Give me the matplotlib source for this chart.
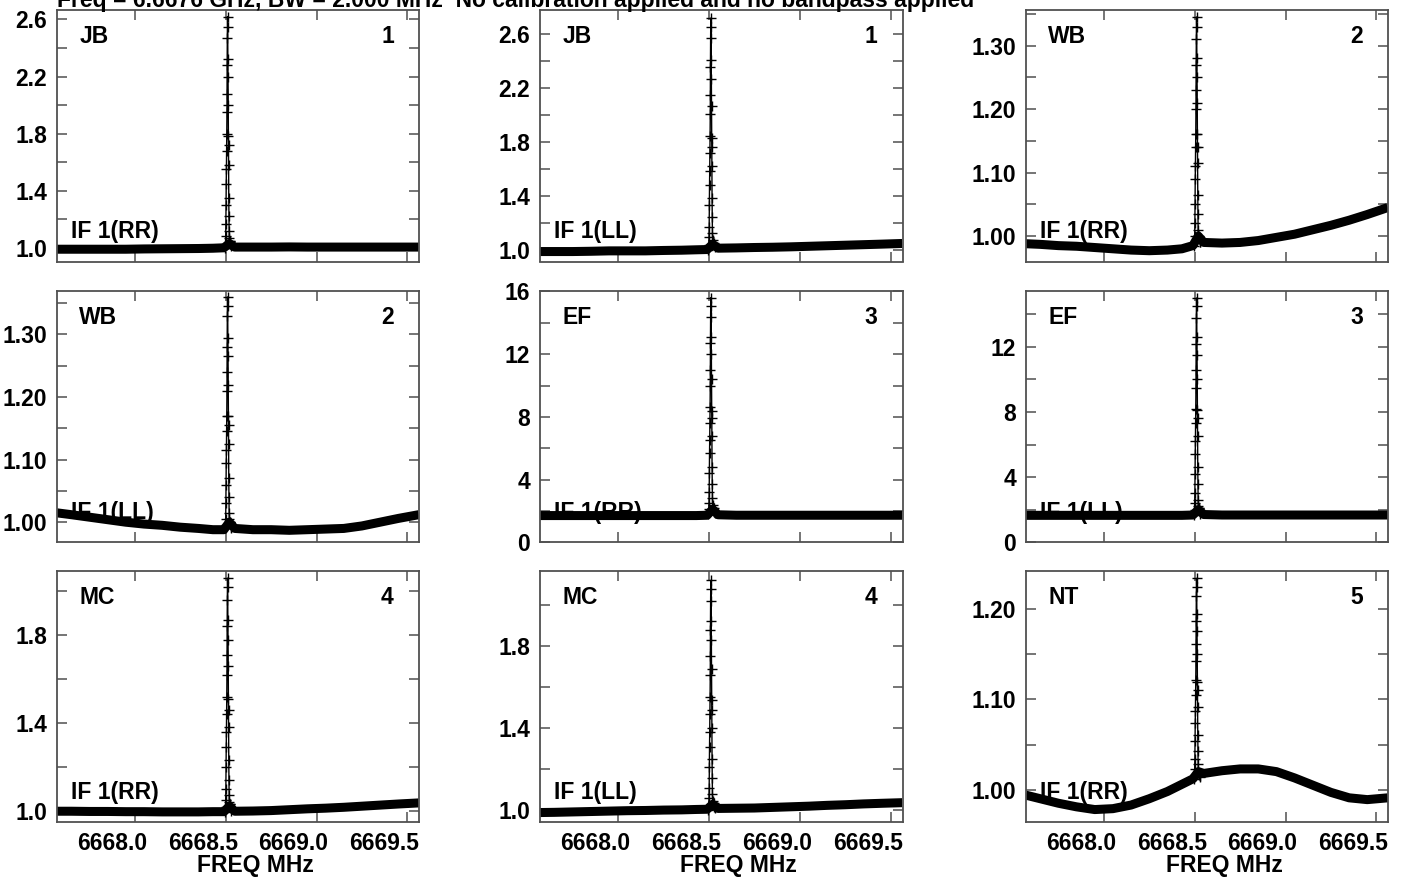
import numpy as np
import matplotlib
matplotlib.use("Agg")
import matplotlib.pyplot as plt
from matplotlib.ticker import MultipleLocator, FormatStrFormatter, FixedLocator, NullLocator
from matplotlib.transforms import blended_transform_factory, ScaledTranslation

plt.rcParams['font.family'] = ['Liberation Sans', 'DejaVu Sans']
plt.rcParams['font.weight'] = 'bold'
plt.rcParams['font.size'] = 16.5

title = "Freq = 6.6676 GHz, BW = 2.000 MHz  No calibration applied and no bandpass applied"

# baseline knots (MHz)
base_freq = [6667.57, 6667.65, 6667.75, 6667.85, 6667.95, 6668.05, 6668.15, 6668.25,
             6668.35, 6668.43, 6668.49, 6668.52, 6668.55, 6668.65, 6668.75, 6668.85,
             6668.95, 6669.05, 6669.15, 6669.25, 6669.35, 6669.45, 6669.563]

# maser line: offsets from line centre (MHz)
line_centre = 6668.51
peak_dx = [-0.013, -0.011, -0.010, -0.009, -0.008, -0.007, -0.006, -0.005, -0.004,
           -0.003, -0.0025, -0.002, -0.001, 0.0,
           0.001, 0.002, 0.003, 0.004, 0.005, 0.0055, 0.006, 0.007, 0.008, 0.009,
           0.010, 0.012, 0.014, 0.016, 0.018, 0.021]

stations = ["JB", "JB", "WB", "WB", "EF", "EF", "MC", "MC", "NT"]
ant_nums = ["1", "1", "2", "2", "3", "3", "4", "4", "5"]
pols = ["IF 1(RR)", "IF 1(LL)", "IF 1(RR)", "IF 1(LL)", "IF 1(RR)", "IF 1(LL)",
        "IF 1(RR)", "IF 1(LL)", "IF 1(RR)"]

base_jb_rr = [0.99, 0.99, 0.99, 0.99, 0.99, 0.992, 0.993, 0.994, 0.995, 0.997, 1.0, 1.03,
              1.005, 1.005, 1.005, 1.006, 1.005, 1.005, 1.005, 1.005, 1.005, 1.005, 1.005]
base_jb_ll = [0.985, 0.985, 0.985, 0.987, 0.99, 0.99, 0.99, 0.993, 0.995, 0.998, 1.0, 1.04,
              1.01, 1.012, 1.015, 1.017, 1.02, 1.024, 1.028, 1.032, 1.036, 1.04, 1.045]
base_wb_rr = [0.988, 0.987, 0.985, 0.984, 0.982, 0.98, 0.978, 0.977, 0.978, 0.98, 0.985, 1.0,
              0.99, 0.989, 0.99, 0.993, 0.998, 1.003, 1.01, 1.017, 1.025, 1.034, 1.045]
base_wb_ll = [1.015, 1.012, 1.008, 1.004, 1.0, 0.997, 0.995, 0.992, 0.99, 0.988, 0.988, 1.0,
              0.99, 0.988, 0.988, 0.987, 0.988, 0.989, 0.99, 0.994, 1.0, 1.006, 1.012]
base_ef_rr = [1.7, 1.7, 1.7, 1.7, 1.7, 1.7, 1.7, 1.7, 1.7, 1.7, 1.72, 2.1,
              1.75, 1.72, 1.72, 1.72, 1.72, 1.72, 1.72, 1.72, 1.72, 1.72, 1.72]
base_ef_ll = [1.65, 1.65, 1.65, 1.65, 1.65, 1.65, 1.65, 1.65, 1.65, 1.65, 1.67, 2.0,
              1.7, 1.67, 1.67, 1.67, 1.67, 1.67, 1.67, 1.67, 1.67, 1.67, 1.67]
base_mc_rr = [0.997, 0.997, 0.996, 0.996, 0.995, 0.995, 0.994, 0.994, 0.994, 0.995, 0.995, 1.02,
              0.997, 0.998, 1.0, 1.004, 1.008, 1.011, 1.015, 1.02, 1.025, 1.03, 1.035]
base_mc_ll = [0.99, 0.991, 0.993, 0.995, 0.997, 0.999, 1.0, 1.002, 1.003, 1.005, 1.006, 1.03,
              1.01, 1.011, 1.012, 1.015, 1.018, 1.021, 1.025, 1.028, 1.032, 1.035, 1.038]
base_nt_rr = [0.994, 0.99, 0.985, 0.981, 0.978, 0.979, 0.983, 0.99, 0.998, 1.006, 1.012, 1.02,
              1.018, 1.021, 1.023, 1.023, 1.02, 1.013, 1.005, 0.997, 0.991, 0.989, 0.991]

peak_jb_rr = [1.0, 1.03, 1.08, 1.17, 1.3, 1.45, 1.55, 1.68, 1.8, 1.95, 2.08, 2.28, 2.47, 2.62,
              2.55, 2.32, 2.2, 2.0, 1.78, 1.72, 1.58, 1.35, 1.22, 1.12, 1.07, 1.05, 1.03, 1.05, 1.02, 1.01]
peak_jb_ll = [1.0, 1.03, 1.09, 1.17, 1.33, 1.48, 1.58, 1.72, 1.84, 2.01, 2.15, 2.36, 2.57, 2.72,
              2.65, 2.41, 2.27, 2.07, 1.83, 1.76, 1.62, 1.38, 1.24, 1.12, 1.07, 1.05, 1.04, 1.05, 1.03, 1.02]
peak_wb_rr = [0.985, 0.99, 1.0, 1.02, 1.05, 1.09, 1.11, 1.14, 1.16, 1.2, 1.23, 1.27, 1.31, 1.345,
              1.33, 1.28, 1.25, 1.21, 1.16, 1.14, 1.115, 1.065, 1.035, 1.01, 1.0, 0.998, 0.995, 1.0, 0.99, 0.99]
peak_wb_ll = [0.99, 0.995, 1.005, 1.03, 1.06, 1.095, 1.115, 1.145, 1.17, 1.21, 1.24, 1.28, 1.33, 1.36,
              1.345, 1.295, 1.265, 1.22, 1.17, 1.155, 1.125, 1.07, 1.04, 1.015, 1.005, 1.0, 0.998, 1.0, 0.993, 0.99]
peak_ef_rr = [1.8, 2.1, 2.5, 3.2, 4.4, 5.7, 6.5, 7.6, 8.6, 10.0, 11.0, 12.7, 14.4, 15.6,
              15.1, 13.1, 12.0, 10.4, 8.4, 7.9, 6.8, 4.8, 3.7, 2.8, 2.4, 2.2, 2.1, 2.2, 1.95, 1.85]
peak_ef_ll = [1.7, 2.0, 2.4, 3.0, 4.2, 5.4, 6.2, 7.3, 8.2, 9.5, 10.6, 12.2, 13.8, 15.0,
              14.5, 12.6, 11.5, 10.0, 8.1, 7.6, 6.5, 4.6, 3.6, 2.6, 2.2, 2.1, 2.0, 2.1, 1.85, 1.75]
peak_mc_rr = [0.995, 1.015, 1.05, 1.1, 1.2, 1.29, 1.36, 1.44, 1.52, 1.62, 1.71, 1.84, 1.96, 2.06,
              2.02, 1.87, 1.78, 1.66, 1.51, 1.46, 1.38, 1.23, 1.14, 1.07, 1.04, 1.03, 1.02, 1.03, 1.01, 1.0]
peak_mc_ll = [1.0, 1.02, 1.06, 1.11, 1.21, 1.31, 1.38, 1.47, 1.55, 1.66, 1.75, 1.88, 2.02, 2.12,
              2.08, 1.92, 1.83, 1.69, 1.54, 1.49, 1.4, 1.25, 1.16, 1.08, 1.045, 1.035, 1.025, 1.035, 1.015, 1.01]
peak_nt_rr = [1.012, 1.016, 1.023, 1.034, 1.054, 1.074, 1.087, 1.105, 1.121, 1.143, 1.161, 1.187, 1.214, 1.234,
              1.225, 1.194, 1.176, 1.15, 1.119, 1.11, 1.092, 1.061, 1.043, 1.028, 1.021, 1.019, 1.016, 1.019, 1.015, 1.014]

bases = [base_jb_rr, base_jb_ll, base_wb_rr, base_wb_ll, base_ef_rr, base_ef_ll,
         base_mc_rr, base_mc_ll, base_nt_rr]
peaks = [peak_jb_rr, peak_jb_ll, peak_wb_rr, peak_wb_ll, peak_ef_rr, peak_ef_ll,
         peak_mc_rr, peak_mc_ll, peak_nt_rr]

ylims = [(0.904, 2.666), (0.911, 2.78), (0.96, 1.356), (0.968, 1.370), (0.0, 16.05),
         (0.0, 15.45), (0.947, 2.094), (0.943, 2.167), (0.964, 1.2425)]
yticks = [[1.0, 1.4, 1.8, 2.2, 2.6], [1.0, 1.4, 1.8, 2.2, 2.6], [1.0, 1.1, 1.2, 1.3],
          [1.0, 1.1, 1.2, 1.3], [0, 4, 8, 12, 16], [0, 4, 8, 12], [1.0, 1.4, 1.8],
          [1.0, 1.4, 1.8], [1.0, 1.1, 1.2]]
yminor = [0.2, 0.2, 0.05, 0.05, 2, 2, 0.2, 0.2, 0.05]
yfmt = ["%.1f", "%.1f", "%.2f", "%.2f", "%d", "%d", "%.1f", "%.1f", "%.2f"]
xticks = [6668.0, 6668.5, 6669.0, 6669.5]
xlim = (6667.57, 6669.565)

W, H = 1406, 877
fig = plt.figure(figsize=(W / 100, H / 100), dpi=100)

col_left = [56.7, 540, 1025.7]
row_top = [10, 290.7, 570.7]
aw, ah = 362.5, 251.5
edge = '#505050'
fs = 16.5

fig.text(col_left[0] / W, 1 - 6.5 / H, title, ha='left', va='baseline', fontsize=fs)

for i in range(9):
    r, c = divmod(i, 3)
    ax = fig.add_axes([col_left[c] / W, 1 - (row_top[r] + ah) / H, aw / W, ah / H])
    ax.plot(base_freq, bases[i], color='black', lw=6.5, solid_capstyle='butt',
            solid_joinstyle='round')
    px = [line_centre + d for d in peak_dx]
    ax.plot(px, peaks[i], color='black', lw=1.0, marker='+', ms=7, mew=1.0)
    ax.set_xlim(*xlim)
    ax.set_ylim(*ylims[i])
    ax.xaxis.set_major_locator(FixedLocator(xticks))
    ax.xaxis.set_minor_locator(NullLocator())
    ax.yaxis.set_major_locator(FixedLocator(yticks[i]))
    ax.yaxis.set_minor_locator(MultipleLocator(yminor[i]))
    ax.yaxis.set_major_formatter(FormatStrFormatter(yfmt[i]))
    ax.tick_params(which='both', direction='in', top=True, right=True,
                   color=edge, width=1.1, length=7, pad=7, labelsize=fs)
    ax.tick_params(labelbottom=False)
    for sp in ax.spines.values():
        sp.set_color(edge)
        sp.set_linewidth(1.3)
    if r == 2:
        # AIPS puts the frequency labels a little left of their ticks
        tr = blended_transform_factory(ax.transData, ax.transAxes) + \
            ScaledTranslation(0.12, -0.275, fig.dpi_scale_trans)
        for xt in xticks:
            ax.text(xt, 0, "%.1f" % xt, transform=tr, ha='right', va='baseline',
                    fontsize=fs, fontweight='bold')
        ax.text(0.548, -0.199, "FREQ MHz", transform=ax.transAxes, ha='center',
                va='baseline', fontsize=fs, fontweight='bold')
    ax.text(0.062, 0.894, stations[i], transform=ax.transAxes, ha='left', va='center',
            fontsize=fs, fontweight='bold')
    ax.text(0.93, 0.894, ant_nums[i], transform=ax.transAxes, ha='right', va='center',
            fontsize=fs, fontweight='bold')
    ax.text(0.04, 0.119, pols[i], transform=ax.transAxes, ha='left', va='center',
            fontsize=fs, fontweight='bold')

fig.savefig("out.png", dpi=100)
